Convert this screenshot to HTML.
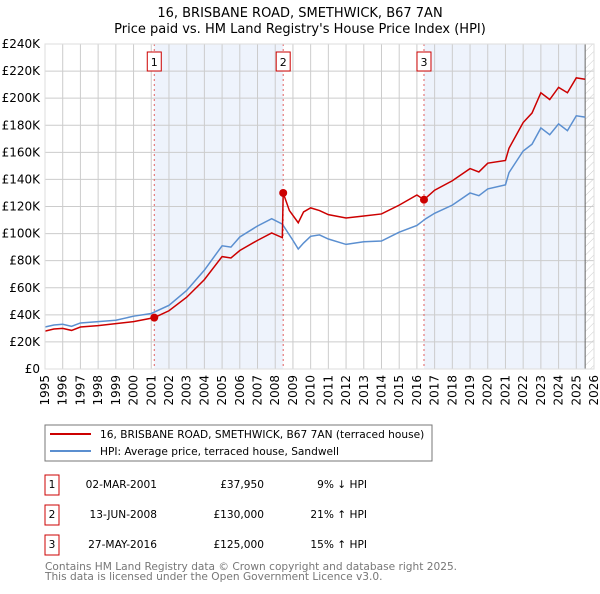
<!DOCTYPE html>
<html><head><meta charset="utf-8"><style>
body{margin:0;background:#fff;width:600px;height:590px;overflow:hidden;font-family:"DejaVu Sans","Liberation Sans",sans-serif;}
</style></head><body>
<svg id="c" width="600" height="590" xmlns="http://www.w3.org/2000/svg" font-family="DejaVu Sans, Liberation Sans, sans-serif">
<defs><pattern id="hatch" width="6" height="6" patternUnits="userSpaceOnUse" patternTransform="rotate(45)"><line x1="0" y1="0" x2="0" y2="6" stroke="#ccc" stroke-width="1"/></pattern></defs>
<text x="300" y="17" text-anchor="middle" font-size="13">16, BRISBANE ROAD, SMETHWICK, B67 7AN</text>
<text x="300" y="33" text-anchor="middle" font-size="13">Price paid vs. HM Land Registry's House Price Index (HPI)</text>
<g id="plot"></g>
<g>
<rect x="45" y="425" width="387" height="36" fill="#fff" stroke="#777"/>
<line x1="50" y1="434" x2="91" y2="434" stroke="#cc0000" stroke-width="2"/>
<text x="100" y="438" font-size="10.6">16, BRISBANE ROAD, SMETHWICK, B67 7AN (terraced house)</text>
<line x1="50" y1="451" x2="91" y2="451" stroke="#5b8fd0" stroke-width="2"/>
<text x="100" y="455" font-size="10.6">HPI: Average price, terraced house, Sandwell</text>
</g>
<g font-size="10.6">
<rect x="45" y="475" width="14" height="20" fill="#fff" stroke="#cc0000"/><text x="52" y="488" text-anchor="middle">1</text>
<text x="157" y="488" text-anchor="end">02-MAR-2001</text><text x="264" y="488" text-anchor="end">£37,950</text><text x="367" y="488" text-anchor="end">9% ↓ HPI</text>
<rect x="45" y="505" width="14" height="20" fill="#fff" stroke="#cc0000"/><text x="52" y="518" text-anchor="middle">2</text>
<text x="157" y="518" text-anchor="end">13-JUN-2008</text><text x="264" y="518" text-anchor="end">£130,000</text><text x="367" y="518" text-anchor="end">21% ↑ HPI</text>
<rect x="45" y="535" width="14" height="20" fill="#fff" stroke="#cc0000"/><text x="52" y="548" text-anchor="middle">3</text>
<text x="157" y="548" text-anchor="end">27-MAY-2016</text><text x="264" y="548" text-anchor="end">£125,000</text><text x="367" y="548" text-anchor="end">15% ↑ HPI</text>
</g>
<text x="45" y="570" font-size="10.6" fill="#777">Contains HM Land Registry data © Crown copyright and database right 2025.</text>
<text x="45" y="580" font-size="10.6" fill="#777">This data is licensed under the Open Government Licence v3.0.</text>
</svg>
<script>
const yearTicks=[1995,1996,1997,1998,1999,2000,2001,2002,2003,2004,2005,2006,2007,2008,2009,2010,2011,2012,2013,2014,2015,2016,2017,2018,2019,2020,2021,2022,2023,2024,2025,2026];
const valueTicks=[0,20,40,60,80,100,120,140,160,180,200,220,240];
const valueLabels=["£0","£20K","£40K","£60K","£80K","£100K","£120K","£140K","£160K","£180K","£200K","£220K","£240K"];
const hpiYears=[1995,1995.5,1996,1996.5,1997,1998,1999,2000,2001,2002,2003,2004,2005,2005.5,2006,2007,2007.8,2008.4,2009,2009.3,2009.6,2010,2010.5,2011,2012,2013,2014,2015,2016,2016.5,2017,2018,2019,2019.5,2020,2021,2021.2,2022,2022.5,2023,2023.5,2024,2024.5,2025,2025.5];
const hpiValues=[31,32.5,33,31.5,34,35,36,39,41,47,58,73,91,90,97.5,105.6,111,107,95,88.6,93,98,99,96,92,94,94.5,101,106,111,115,121,130,128,133,136,145,161,166,178,173,181,176,187,186];
const saleYears=[1995,1995.5,1996,1996.5,1997,1998,1999,2000,2001.17,2002,2003,2004,2005,2005.5,2006,2007,2007.8,2008.4,2008.45,2008.8,2009.3,2009.6,2010,2010.5,2011,2012,2013,2014,2015,2016,2016.4,2017,2018,2019,2019.5,2020,2021,2021.2,2022,2022.5,2023,2023.5,2024,2024.5,2025,2025.5];
const saleValues=[28,29.5,30,28.5,31,32,33.5,35,37.95,43,53,66,83,82,87.5,95,100.5,97,130,117,108,116,119,117,114,111.5,113,114.5,121,128.5,125,132,139,148,145.5,152,154,163,182,189,204,199,208,204,215,214];
const markerYears=[2001.17,2008.45,2016.4];
const markerValues=[37.95,130,125];
const markerLabels=["1","2","3"];
const ns="http://www.w3.org/2000/svg";
const L=45,R=594,T=44,B=369;
const X=y=>L+(y-1995)/31*(R-L);
const Y=v=>B-v/240*(B-T);
const g=document.getElementById('plot');
function el(t,a,p){const e=document.createElementNS(ns,t);for(const k in a)e.setAttribute(k,a[k]);(p||g).appendChild(e);return e;}
const bg=el('rect',{x:L,y:T,width:R-L,height:B-T,fill:'#fff'});


const s1=el('rect',{x:X(markerYears[0]),y:T,width:X(markerYears[1])-X(markerYears[0]),height:B-T,fill:'#eef3fc'});


const s2=el('rect',{x:X(markerYears[2]),y:T,width:X(2025.5)-X(markerYears[2]),height:B-T,fill:'#eef3fc'});


const h=el('rect',{x:X(2025.5),y:T,width:R-X(2025.5),height:B-T,fill:'url(#hatch)'});


yearTicks.forEach(yr=>{
  const l=el('line',{x1:X(yr),x2:X(yr),y1:T,y2:B,stroke:'#ccc','stroke-width':1});
  
  
  const t=el('text',{x:0,y:0,'font-size':12,'text-anchor':'end',transform:`translate(${X(yr)+4},${B+6}) rotate(-90)`});
  t.textContent=yr;
  
  
});
valueTicks.forEach((v,i)=>{
  const l=el('line',{x1:L,x2:R,y1:Y(v),y2:Y(v),stroke:'#ccc','stroke-width':1});
  
  
  const t=el('text',{x:L-5,y:Y(v)+4,'font-size':12,'text-anchor':'end'});
  t.textContent=valueLabels[i];
  
  
});
const el2=el('line',{x1:X(2025.5),x2:X(2025.5),y1:T,y2:B,stroke:'#666','stroke-width':1});


markerYears.forEach((yr,i)=>{
  const l=el('line',{x1:X(yr),x2:X(yr),y1:T,y2:B,stroke:'#e06060','stroke-width':1,'stroke-dasharray':'2,3'});
  
  
  const r=el('rect',{x:X(yr)-7,y:52,width:14,height:19,fill:'#fff',stroke:'#cc0000'});
  
  
  const t=el('text',{x:X(yr),y:66,'font-size':11,'text-anchor':'middle'});
  t.textContent=markerLabels[i];
  
  
});
const hp=el('polyline',{points:hpiYears.map((y,i)=>X(y)+','+Y(hpiValues[i])).join(' '),fill:'none',stroke:'#5b8fd0','stroke-width':1.5});


const sp=el('polyline',{points:saleYears.map((y,i)=>X(y)+','+Y(saleValues[i])).join(' '),fill:'none',stroke:'#cc0000','stroke-width':1.5});


markerYears.forEach((yr,i)=>{
  const c=el('circle',{cx:X(yr),cy:Y(markerValues[i]),r:4,fill:'#cc0000'});
  
  
});
const fr=el('rect',{x:L,y:T,width:R-L,height:B-T,fill:'none',stroke:'#ddd'});


</script>
</body></html>
